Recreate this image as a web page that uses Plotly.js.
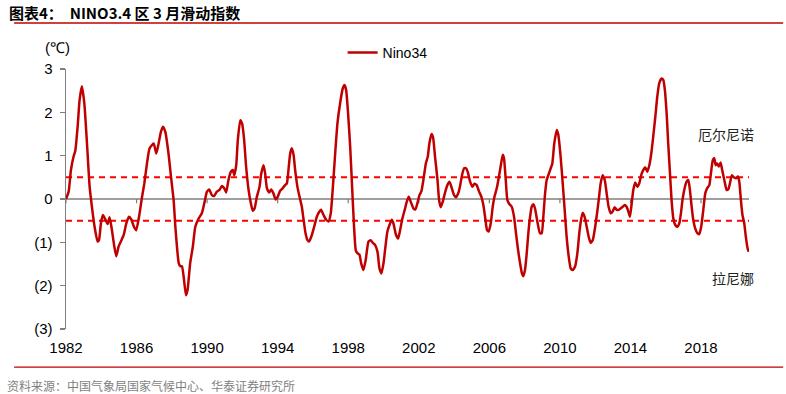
<!DOCTYPE html>
<html>
<head>
<meta charset="utf-8">
<script src="https://cdn.plot.ly/plotly-3.0.1.min.js"></script>
<style>
html,body{margin:0;padding:0;background:#fff;}
#chart{width:786px;height:394px;}
</style>
</head>
<body>
<div id="chart"></div>
<script>
// Time (decimal year) of each reading
var years = [
1982.0,1982.15,1982.28,1982.43,1982.53,1982.66,1982.77,1982.9,1983.04,1983.19,1983.34,1983.47,1983.62,1983.79,1983.87,1983.98,
1984.09,1984.23,1984.36,1984.47,1984.59,1984.74,1984.85,1984.98,1985.11,1985.27,1985.42,1985.57,1985.7,1985.85,1985.98,
1986.14,1986.3,1986.44,1986.59,1986.74,1986.97,1987.12,1987.25,1987.38,1987.5,1987.63,1987.82,1987.95,
1988.1,1988.2,1988.29,1988.39,1988.48,1988.57,1988.67,1988.8,1988.89,1989.04,1989.19,1989.33,1989.52,1989.7,1989.84,1989.99,
1990.12,1990.27,1990.4,1990.55,1990.7,1990.84,1990.97,1991.08,1991.21,1991.35,1991.46,1991.54,1991.65,1991.74,1991.88,1991.99,
1992.1,1992.21,1992.35,1992.48,1992.59,1992.69,1992.82,1992.97,1993.07,1993.2,1993.29,1993.39,1993.52,1993.63,1993.76,1993.88,1993.99,
1994.14,1994.29,1994.42,1994.52,1994.63,1994.71,1994.8,1994.9,1994.99,1995.12,1995.24,1995.37,1995.46,1995.58,1995.69,1995.78,1995.94,
1996.07,1996.22,1996.37,1996.46,1996.6,1996.75,1996.88,1997.01,1997.13,1997.26,1997.39,1997.54,1997.69,1997.79,1997.88,1997.99,
1998.11,1998.22,1998.33,1998.43,1998.52,1998.64,1998.73,1998.86,1998.99,
1999.15,1999.28,1999.39,1999.52,1999.66,1999.77,1999.88,2000.0,2000.11,2000.22,2000.34,2000.47,2000.56,2000.71,2000.83,2000.94,
2001.07,2001.21,2001.32,2001.43,2001.54,2001.7,2001.81,2001.92,2002.04,2002.15,2002.26,2002.4,2002.51,2002.6,2002.72,2002.81,2002.92,
2003.06,2003.15,2003.24,2003.36,2003.49,2003.62,2003.74,2003.87,2004.0,2004.11,2004.25,2004.34,2004.45,2004.57,2004.68,2004.77,2004.91,
2005.04,2005.15,2005.28,2005.42,2005.55,2005.66,2005.78,2005.87,2005.96,2006.08,2006.19,2006.29,2006.42,2006.51,2006.64,2006.76,2006.83,2006.93,
2007.02,2007.14,2007.27,2007.4,2007.51,2007.63,2007.74,2007.85,2007.93,2008.02,2008.12,2008.21,2008.31,2008.4,2008.5,
2008.59,2008.72,2008.87,2008.97,2009.06,2009.16,2009.25,2009.38,2009.48,2009.57,2009.68,2009.82,2009.91,2010.04,2010.16,2010.27,2010.38,2010.5,2010.61,2010.72,2010.86,2010.99,
2011.1,2011.2,2011.29,2011.4,2011.52,2011.63,2011.74,2011.86,2011.97,2012.08,2012.2,2012.31,2012.42,2012.54,2012.65,2012.76,2012.88,2012.99,
2013.1,2013.22,2013.33,2013.44,2013.56,2013.67,2013.78,2013.88,2013.97,2014.07,2014.16,2014.27,2014.39,2014.5,2014.61,2014.73,2014.84,2014.95,
2015.07,2015.18,2015.29,2015.41,2015.52,2015.63,2015.77,2015.86,2015.95,2016.05,2016.14,2016.24,2016.33,2016.43,2016.54,2016.65,2016.77,2016.86,2016.95,
2017.07,2017.18,2017.28,2017.37,2017.47,2017.56,2017.67,2017.79,2017.9,2018.01,2018.13,2018.24,2018.35,2018.47,2018.56,2018.67,2018.75,2018.83,2018.92,
2019.01,2019.11,2019.2,2019.32,2019.45,2019.54,2019.64,2019.75,2019.86,2019.98,2020.09,2020.17,2020.26,2020.35,2020.45,2020.54,2020.64,2020.71
];
// Nino34 3-month running index (°C)
var nino34 = [
0.0,0.17,0.67,0.98,1.12,1.67,2.28,2.6,2.2,1.28,0.28,-0.18,-0.64,-0.98,-0.95,-0.56,
-0.37,-0.47,-0.58,-0.42,-0.68,-1.1,-1.32,-1.1,-0.98,-0.83,-0.56,-0.41,-0.47,-0.64,-0.72,
-0.41,0.02,0.36,0.82,1.17,1.28,1.05,1.28,1.55,1.67,1.55,1.02,0.52,
-0.02,-0.64,-1.1,-1.48,-1.55,-1.55,-1.79,-2.22,-2.1,-1.48,-1.1,-0.64,-0.45,-0.33,-0.1,0.17,
0.22,0.09,0.07,0.17,0.21,0.3,0.25,0.15,0.44,0.63,0.67,0.55,0.78,1.36,1.82,1.73,
1.36,0.75,0.21,-0.1,-0.27,-0.22,0.05,0.28,0.59,0.78,0.59,0.25,0.15,0.22,0.13,-0.01,0.04,
0.19,0.25,0.32,0.36,0.75,1.05,1.17,1.02,0.67,0.28,0.05,-0.18,-0.45,-0.79,-0.95,-0.98,-0.83,
-0.64,-0.41,-0.29,-0.25,-0.37,-0.48,-0.52,-0.33,0.28,1.05,1.75,2.21,2.55,2.63,2.52,1.98,
1.21,0.28,-0.64,-1.19,-1.25,-1.29,-1.48,-1.64,-1.41,
-0.98,-0.95,-1.01,-1.06,-1.22,-1.6,-1.72,-1.48,-1.1,-0.75,-0.6,-0.48,-0.56,-0.83,-0.91,-0.72,
-0.45,-0.24,-0.06,0.05,-0.06,-0.22,-0.24,-0.1,0.09,0.18,0.44,0.82,0.98,1.28,1.5,1.42,0.98,
0.44,-0.02,-0.19,-0.06,0.15,0.32,0.4,0.25,0.09,0.04,0.15,0.3,0.55,0.71,0.71,0.63,0.4,
0.28,0.35,0.32,0.17,0.05,-0.14,-0.48,-0.72,-0.75,-0.56,-0.18,0.05,0.25,0.44,0.75,1.02,0.94,0.44,
-0.02,-0.12,-0.18,-0.41,-0.79,-1.18,-1.48,-1.72,-1.78,-1.64,-1.25,-0.79,-0.41,-0.18,-0.12,
-0.22,-0.52,-0.79,-0.79,-0.41,0.13,0.44,0.59,0.71,0.82,1.28,1.59,1.48,0.98,0.36,-0.25,-0.87,-1.33,-1.6,-1.64,-1.56,-1.25,
-0.79,-0.48,-0.32,-0.41,-0.64,-0.87,-1.01,-0.95,-0.72,-0.41,-0.02,0.36,0.55,0.44,0.13,-0.18,-0.33,-0.29,
-0.19,-0.25,-0.25,-0.22,-0.18,-0.14,-0.18,-0.29,-0.41,-0.1,0.21,0.38,0.28,0.36,0.55,0.67,0.73,0.63,
0.78,1.05,1.44,1.9,2.36,2.67,2.78,2.75,2.52,1.98,1.28,0.59,-0.02,-0.45,-0.6,-0.64,-0.56,-0.33,-0.02,
0.25,0.4,0.44,0.21,-0.18,-0.48,-0.68,-0.79,-0.81,-0.64,-0.25,0.13,0.25,0.32,0.59,0.9,0.94,0.78,0.82,
0.75,0.84,0.67,0.44,0.21,0.22,0.36,0.55,0.5,0.48,0.52,0.4,-0.02,-0.37,-0.56,-0.87,-1.14,-1.22
];
var xTicks = [1982,1986,1990,1994,1998,2002,2006,2010,2014,2018];
var yTicks = [-3,-2,-1,0,1,2,3];
var yTickText = ['(3)','(2)','(1)','0','1','2','3'];
var thresholds = [0.5,-0.5];
var xEnd = 2020.72;

var shapes = [];
// threshold dashed lines
thresholds.forEach(function(t){
  shapes.push({type:'line',xref:'paper',x0:0,x1:1,yref:'y',y0:t,y1:t,
    line:{color:'#FF0000',width:2,dash:'6px,5px'},layer:'below'});
});
// zero line (category axis)
shapes.push({type:'line',xref:'paper',x0:0,x1:1,yref:'y',y0:0,y1:0,
  line:{color:'#7F7F7F',width:1.5},layer:'below'});
// x tick marks on zero line
xTicks.forEach(function(v){
  shapes.push({type:'line',xref:'x',x0:v,x1:v,yref:'y',y0:0,y1:-0.1,
    line:{color:'#7F7F7F',width:1.2},layer:'below'});
});
// title rule and footer rule
shapes.push({type:'line',xref:'paper',yref:'paper',x0:-0.076,x1:1.05,y0:1.177,y1:1.177,
  line:{color:'#C00000',width:1.5}});
shapes.push({type:'line',xref:'paper',yref:'paper',x0:-0.076,x1:1.05,y0:-0.1465,y1:-0.1465,
  line:{color:'#C00000',width:1.2}});

var trace = {
  x: years, y: nino34, type:'scatter', mode:'lines', name:'Nino34',
  line:{color:'#C00000',width:2.5,shape:'spline',smoothing:0.5}
};

var layout = {
  width:786, height:394,
  margin:{l:66,r:37,t:69,b:65},
  paper_bgcolor:'#fff', plot_bgcolor:'#fff',
  font:{family:'"Liberation Sans", Arial, sans-serif',size:15,color:'#000'},
  showlegend:true,
  legend:{x:0.405,y:1.062,xanchor:'left',yanchor:'middle',orientation:'h',
    font:{size:14,family:'"Liberation Sans", Arial, sans-serif'},bgcolor:'rgba(0,0,0,0)'},
  xaxis:{range:[1982,xEnd],tickvals:xTicks,ticktext:xTicks.map(String),
    showgrid:false,zeroline:false,showline:false,ticks:'',
    ticklabelstandoff:8,fixedrange:true},
  yaxis:{range:[-3,3],tickvals:yTicks,ticktext:yTickText,
    showgrid:false,zeroline:false,showline:true,linecolor:'#7F7F7F',linewidth:1.5,
    ticks:'outside',ticklen:5,tickcolor:'#7F7F7F',tickwidth:1.2,ticklabelstandoff:4,fixedrange:true},
  shapes:shapes,
  annotations:[
    {xref:'paper',yref:'paper',x:-0.087,y:1.219,xanchor:'left',yanchor:'middle',showarrow:false,
     text:'<b>图表4：  NINO3.4 区 3 月滑动指数</b>',
     font:{family:'"Noto Sans CJK SC", sans-serif',size:15,color:'#000'}},
    {xref:'paper',yref:'paper',x:-0.013,y:1.081,xanchor:'center',yanchor:'middle',showarrow:false,
     text:'(℃)',font:{size:15}},
    {xref:'paper',yref:'y',x:0.966,y:1.5,xanchor:'center',yanchor:'middle',showarrow:false,
     text:'厄尔尼诺',font:{family:'"Noto Sans CJK SC", sans-serif',size:14,color:'#222'}},
    {xref:'paper',yref:'y',x:0.976,y:-1.83,xanchor:'center',yanchor:'middle',showarrow:false,
     text:'拉尼娜',font:{family:'"Noto Sans CJK SC", sans-serif',size:14,color:'#222'}},
    {xref:'paper',yref:'paper',x:-0.09,y:-0.218,xanchor:'left',yanchor:'middle',showarrow:false,
     text:'资料来源：中国气象局国家气候中心、华泰证券研究所',
     font:{family:'"Noto Sans CJK SC", sans-serif',size:12,color:'#7F7F7F'}}
  ]
};

Plotly.newPlot('chart',[trace],layout,{displayModeBar:false,staticPlot:true});
</script>
</body>
</html>
